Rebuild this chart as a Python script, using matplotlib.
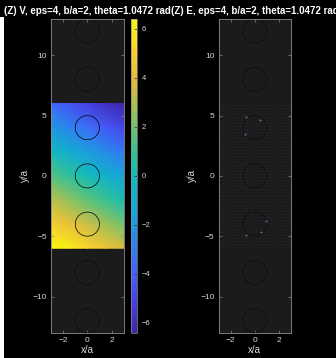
"""
plot.py
-------
Potential V and field E around a column of dielectric rods,
MATLAB-style dark figure with a parula-like colormap.
"""

import numpy as np
import matplotlib.pyplot as plt
from matplotlib.colors import LinearSegmentedColormap
from matplotlib.patches import Circle, Rectangle

# ----------------------------- DATA -----------------------------
# potential V sampled on a coarse grid (read off the picture)
x_grid = [-3.0, -1.5, 0.0, 1.5, 3.0]
y_grid = [6.0, 4.0, 2.0, 0.0, -2.0, -4.0, -6.0]
V_rows = [
    [-3.7, -4.45, -5.2, -5.95, -6.4],
    [-1.96, -2.71, -3.46, -4.21, -4.96],
    [-0.23, -0.98, -1.73, -2.48, -3.23],
    [1.5, 0.75, 0.0, -0.75, -1.5],
    [3.23, 2.48, 1.73, 0.98, 0.23],
    [4.96, 4.21, 3.46, 2.71, 1.96],
    [6.4, 5.95, 5.2, 4.45, 3.7],
]
v_min, v_max = -6.4, 6.4

# rod centres (x/a, y/a) and radius
rod_y = [-12, -8, -4, 0, 4, 8, 12]
rod_r = 1.0

# the few visible bright field spots near the rod edges
spot_x = [-0.69, 0.41, -0.85, 0.97, 0.53, -0.74]
spot_y = [4.9, 4.63, 3.48, -3.72, -4.68, -4.93]

titles = ["(Z) V, eps=4, b/a=2, theta=1.0472 rad",
          "(Z) E, eps=4, b/a=2, theta=1.0472 rad"]
xticks = [-2, 0, 2]
yticks = [-10, -5, 0, 5, 10]
cbar_ticks = [-6, -4, -2, 0, 2, 4, 6]
# ----------------------------------------------------------------

parula = LinearSegmentedColormap.from_list("parula", [
    (0.00, (0.2422, 0.1504, 0.6603)),
    (0.10, (0.2780, 0.2591, 0.8987)),
    (0.20, (0.2691, 0.3923, 0.9942)),
    (0.30, (0.1540, 0.5402, 0.9218)),
    (0.40, (0.0770, 0.6684, 0.8408)),
    (0.50, (0.0704, 0.7320, 0.7291)),
    (0.60, (0.2586, 0.7681, 0.5279)),
    (0.70, (0.5847, 0.7613, 0.3536)),
    (0.80, (0.8867, 0.7311, 0.2422)),
    (0.90, (0.9900, 0.8100, 0.1800)),
    (1.00, (0.9763, 0.9831, 0.0538)),
])

plt.rcParams["font.family"] = ["Liberation Sans", "DejaVu Sans"]

FACE = "#1b1b1b"
SPINE = "#8c8c8c"
TXT = "#d8d8d8"

fig = plt.figure(figsize=(3.36, 3.58), dpi=100, facecolor="black")

# thin white strip on the left edge
fig.patches.append(Rectangle((0, 0), 0.012, 0.9525, transform=fig.transFigure,
                             facecolor="white", edgecolor="none", zorder=0))

bottom, height = 0.0707, 0.876
ax_v = fig.add_axes([0.1518, bottom, 0.2164, height])
ax_e = fig.add_axes([0.651, bottom, 0.2143, height])
cax = fig.add_axes([0.389, bottom, 0.0196, height])

X, Y = np.meshgrid(x_grid, y_grid)
V = np.array(V_rows)
mesh = ax_v.pcolormesh(X, Y, V, shading="gouraud", cmap=parula,
                       vmin=v_min, vmax=v_max, zorder=1)

# E panel: faint grid of tiny arrows (drawn as dots) plus a few bright spots
gx, gy = np.meshgrid(np.arange(-2.875, 3.0, 0.25), np.arange(-5.875, 6.0, 0.25))
ax_e.plot(gx.ravel(), gy.ravel(), ls="none", marker="s", ms=0.6,
          mec="none", mfc="#2a2f33", zorder=1)
ax_e.plot(spot_x, spot_y, ls="none", marker="o", ms=1.5,
          mec="none", mfc="#40709c", zorder=3)

for ax, title in zip([ax_v, ax_e], titles):
    ax.set_facecolor(FACE)
    for yc in rod_y:
        inside = abs(yc) <= 6 and ax is ax_v
        ax.add_patch(Circle((0, yc), rod_r, fill=False,
                            ec="black" if inside else "#0c0c0c",
                            lw=0.5, zorder=2))
    ax.set_xlim(-3, 3)
    ax.set_ylim(-13, 13)
    ax.set_xticks(xticks)
    ax.set_yticks(yticks)
    ax.tick_params(direction="in", length=2.5, width=0.5, color=SPINE,
                   labelcolor=TXT, labelsize=6, top=True, right=True, pad=3)
    for s in ax.spines.values():
        s.set_color(SPINE)
        s.set_linewidth(0.6)
    ax.set_xlabel("x/a", color=TXT, fontsize=7, labelpad=1)
    ax.set_ylabel("y/a", color=TXT, fontsize=7, labelpad=2)
    ax.set_title(title, color="white", fontsize=7, fontweight="bold", pad=4)

cb = fig.colorbar(mesh, cax=cax, ticks=cbar_ticks)
cb.outline.set_edgecolor(SPINE)
cb.outline.set_linewidth(0.5)
cax.tick_params(direction="in", length=2, width=0.5, color="#333333",
                labelcolor=TXT, labelsize=5.5, pad=3)

plt.savefig("out.png", dpi=100, facecolor="black")
